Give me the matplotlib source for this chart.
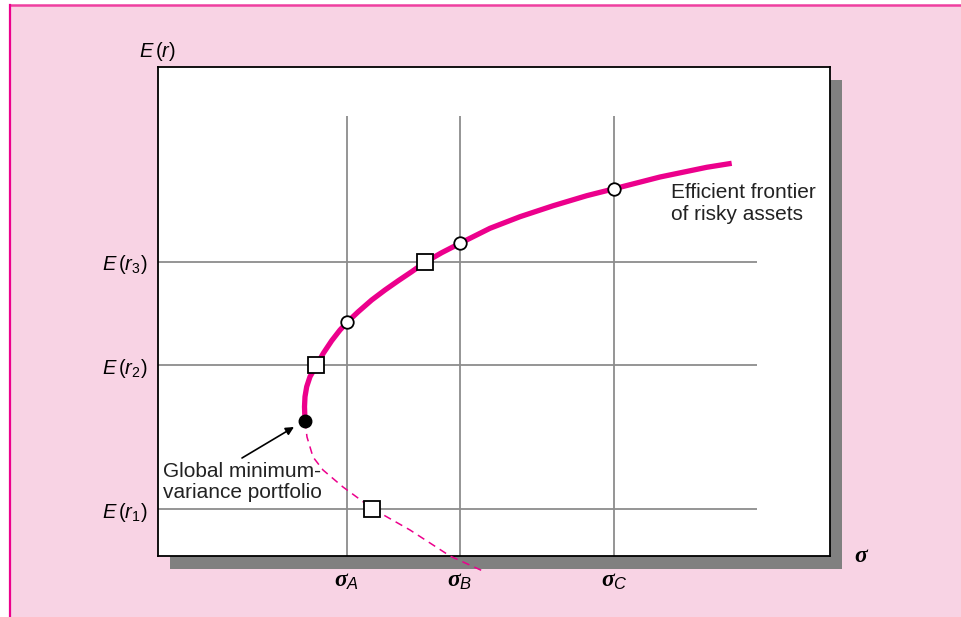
import matplotlib
matplotlib.use("Agg")
import matplotlib.pyplot as plt
from matplotlib.patches import Rectangle
from matplotlib.lines import Line2D

# --- Fuentes ---
plt.rcParams['font.family'] = ['Liberation Sans', 'DejaVu Sans']
plt.rcParams['mathtext.fontset'] = 'custom'
plt.rcParams['mathtext.rm'] = 'Liberation Sans'
plt.rcParams['mathtext.it'] = 'Liberation Sans:italic'
plt.rcParams['mathtext.bf'] = 'Liberation Serif:bold:italic'

# --- Datos ---
sigma_ticks = [18.9, 30.2, 45.6]
sigma_labels = [r'$\mathbf{\sigma}_A$', r'$\mathbf{\sigma}_B$', r'$\mathbf{\sigma}_C$']
er_ticks = [4.7, 19.1, 29.4]
er_labels = [r'$E\,(r_1)$', r'$E\,(r_2)$', r'$E\,(r_3)$']

# frontera eficiente (rama superior)
upper_sigma = [14.70, 14.65, 14.70, 14.87, 15.20, 15.87, 16.53, 17.37, 18.20, 18.97,
               20.03, 21.37, 22.70, 24.03, 25.37, 26.70, 28.37, 30.20, 33.20, 36.20,
               39.53, 42.87, 45.60, 50.20, 54.87, 57.37]
upper_er = [13.50, 14.93, 15.93, 16.93, 17.93, 19.10, 20.27, 21.53, 22.60, 23.43,
            24.43, 25.60, 26.60, 27.53, 28.43, 29.37, 30.33, 31.27, 32.77, 33.93,
            35.03, 36.03, 36.72, 37.90, 38.87, 39.27]
# rama inferior (ineficiente)
lower_sigma = [14.7, 14.9, 15.5, 16.5, 18.5, 21.5, 25.2, 29.2, 32.7]
lower_er = [13.5, 11.9, 9.9, 8.6, 6.9, 4.7, 2.6, 0.0, -1.6]

circle_sigma = [18.9, 30.2, 45.6]
circle_er = [23.4, 31.3, 36.7]
square_sigma = [15.8, 26.7, 21.4]
square_er = [19.1, 29.4, 4.7]
minvar_sigma = 14.7
minvar_er = 13.5

PINK = '#ec008c'
W, H = 962, 617

fig = plt.figure(figsize=(W / 100, H / 100), dpi=100)
fig.patch.set_facecolor('white')

# fondo rosa con borde
fig.patches.append(Rectangle((10 / W, 0), 1 - 10 / W, (H - 4.5) / H,
                             transform=fig.transFigure, facecolor='#f8d3e4',
                             edgecolor='none', zorder=-3))
fig.lines.append(Line2D([10 / W, 1], [(H - 4.5) / H] * 2, transform=fig.transFigure,
                        color='#ef3fa0', lw=1.8, zorder=-2))
fig.lines.append(Line2D([10.3 / W] * 2, [0, (H - 4.5) / H], transform=fig.transFigure,
                        color=PINK, lw=1.6, zorder=-2))

# sombra del recuadro
ax_l, ax_t, ax_w, ax_h = 158, 67, 672, 489
fig.patches.append(Rectangle(((ax_l + 12) / W, (H - ax_t - ax_h - 13) / H), ax_w / W, ax_h / H,
                             transform=fig.transFigure, facecolor='#808080',
                             edgecolor='none', zorder=-1))

ax = fig.add_axes([ax_l / W, (H - ax_t - ax_h) / H, ax_w / W, ax_h / H])
ax.set_xlim(0, 67.2)
ax.set_ylim(0, 48.9)
for s in ax.spines.values():
    s.set_linewidth(1.3)
    s.set_color('black')

# rejilla
ax.vlines(sigma_ticks, 0, 44.0, color='#8c8c8c', lw=1.3, zorder=1)
ax.hlines(er_ticks, 0, 59.9, color='#8c8c8c', lw=1.3, zorder=1)

ax.set_xticks(sigma_ticks)
ax.set_xticklabels(sigma_labels, fontsize=17)
ax.set_yticks(er_ticks)
ax.set_yticklabels(er_labels, fontsize=14.5)
ax.tick_params(axis='x', length=0, pad=10)
ax.tick_params(axis='y', length=0, pad=8)

# curvas
ax.plot(upper_sigma, upper_er, color=PINK, lw=3.8, solid_joinstyle='round',
        solid_capstyle='butt', zorder=3)
ax.plot(lower_sigma, lower_er, color=PINK, lw=1.1, dashes=(5, 3.5), zorder=3, clip_on=False)

ax.plot(circle_sigma, circle_er, 'o', ms=9, mfc='white', mec='black', mew=1.3, zorder=4)
ax.plot(square_sigma, square_er, 's', ms=11.5, mfc='white', mec='black', mew=1.3, zorder=4)
ax.plot(minvar_sigma, minvar_er, 'o', ms=9, color='black', zorder=4)

# textos
ax.text(-1.9, 49.9, r'$E\,(r)$', fontsize=14.5, ha='left', va='baseline')
ax.text(70.4, 0, r'$\mathbf{\sigma}$', fontsize=17, ha='center', va='center')
ax.text(51.3, 33.55, 'Efficient frontier\nof risky assets', fontsize=15,
        ha='left', va='baseline', linespacing=1.2, color='#222222')
ax.text(0.5, 5.8, 'Global minimum-\nvariance portfolio', fontsize=15,
        ha='left', va='baseline', linespacing=1.15, color='#222222')
ax.annotate('', xy=(13.6, 12.9), xytext=(8.4, 9.8),
            arrowprops=dict(arrowstyle='-|>', color='black', lw=1.2,
                            mutation_scale=12, shrinkA=0, shrinkB=0))

fig.savefig('out.png', dpi=100)
